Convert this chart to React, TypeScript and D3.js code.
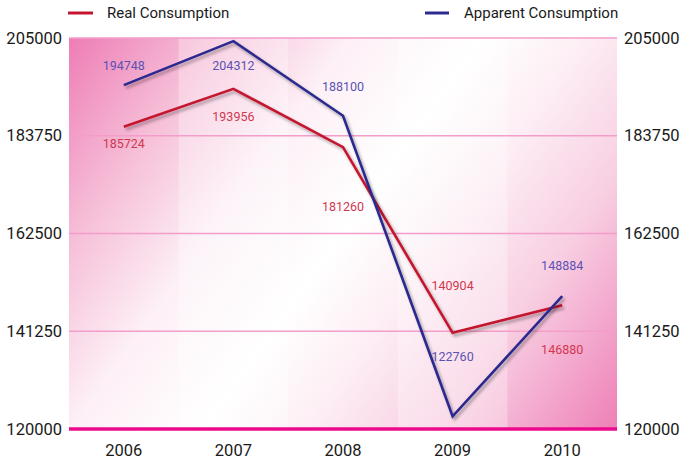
import * as d3 from 'd3';

const years = ['2006', '2007', '2008', '2009', '2010'];
const realConsumption = [185724, 193956, 181260, 140904, 146880];
const apparentConsumption = [194748, 204312, 188100, 122760, 148884];
const yTicks = [120000, 141250, 162500, 183750, 205000];
// vertical offset of each value label from its point
const realLabelDy = [17, 28, 59, -47, 44];
const apparentLabelDy = [-20, 24, -29, -60, -31];

const W = 687;
const H = 462;
const left = 69, right = 617, top = 38, bottom = 429;
const font = 'Roboto, sans-serif';

const App = () => {
    const x = d3.scaleBand<string>().domain(years).range([left, right]).padding(0);
    const y = d3.scaleLinear().domain([120000, 205000]).range([bottom, top]);
    const cx = (i: number) => (x(years[i]) as number) + x.bandwidth() / 2;

    const line = d3.line<number>()
        .x((d, i) => cx(i))
        .y(d => y(d));

    const series = [
        { name: 'Real Consumption', values: realConsumption, dy: realLabelDy, stroke: '#c4152f', label: '#d2374f' },
        { name: 'Apparent Consumption', values: apparentConsumption, dy: apparentLabelDy, stroke: '#2c2a8e', label: '#5b52b4' },
    ];

    return (
        <svg width={W} height={H} style={{ position: 'absolute', left: 0, top: 0, background: '#fff' }}>
            <defs>
                <linearGradient id="bg" gradientUnits="userSpaceOnUse" x1={left} y1={top} x2={right} y2={bottom}>
                    <stop offset="0" stopColor="#ee7db5" />
                    <stop offset="0.18" stopColor="#f6bfd8" />
                    <stop offset="0.34" stopColor="#fdf0f6" />
                    <stop offset="0.5" stopColor="#ffffff" />
                    <stop offset="0.62" stopColor="#fdeff5" />
                    <stop offset="0.78" stopColor="#f8cfe2" />
                    <stop offset="1" stopColor="#ee80b7" />
                </linearGradient>
                <filter id="shadow" x="-10%" y="-10%" width="120%" height="120%">
                    <feDropShadow dx="2" dy="2.5" stdDeviation="1.6" floodColor="#000" floodOpacity="0.35" />
                </filter>
            </defs>

            {/* background */}
            <rect x={left} y={top} width={right - left} height={bottom - top} fill="url(#bg)" />
            {years.map((yr, i) => i % 2 === 1 && (
                <rect key={yr} x={x(yr)} y={top} width={x.bandwidth()} height={bottom - top} fill="#fff" opacity={0.3} />
            ))}

            {/* grid */}
            {yTicks.slice(1).map(t => (
                <line key={t} x1={left} x2={right} y1={y(t)} y2={y(t)} stroke="#f39dca" strokeWidth={1.5} />
            ))}
            <line x1={left} x2={right} y1={y(120000)} y2={y(120000)} stroke="#ec0a8c" strokeWidth={3.5} />

            {/* y tick labels both sides */}
            {yTicks.map(t => (
                <g key={t} fontFamily={font} fontSize={16.5} fill="#1a1a1a">
                    <text x={62} y={y(t)} textAnchor="end" dominantBaseline="central">{t}</text>
                    <text x={624} y={y(t)} textAnchor="start" dominantBaseline="central">{t}</text>
                </g>
            ))}

            {/* x tick labels */}
            {years.map((yr, i) => (
                <text key={yr} x={cx(i)} y={450} textAnchor="middle" dominantBaseline="central"
                    fontFamily={font} fontSize={16.5} fill="#1a1a1a">{yr}</text>
            ))}

            {/* lines */}
            {series.map(s => (
                <path key={s.name} d={line(s.values) as string} fill="none" stroke={s.stroke}
                    strokeWidth={2.6} strokeLinejoin="miter" filter="url(#shadow)" />
            ))}

            {/* value labels */}
            {series.map(s => s.values.map((v, i) => (
                <text key={s.name + i} x={cx(i)} y={y(v) + s.dy[i]} textAnchor="middle" dominantBaseline="central"
                    fontFamily={font} fontSize={12.5} fill={s.label}>{v}</text>
            )))}

            {/* legend */}
            <line x1={68} x2={93} y1={13} y2={13} stroke={series[0].stroke} strokeWidth={3} />
            <text x={107} y={13} dominantBaseline="central" fontFamily={font} fontSize={15} fill="#1a1a1a">Real Consumption</text>
            <line x1={425} x2={449} y1={13} y2={13} stroke={series[1].stroke} strokeWidth={3} />
            <text x={464} y={13} dominantBaseline="central" fontFamily={font} fontSize={15} fill="#1a1a1a">Apparent Consumption</text>
        </svg>
    );
};

export default App;
